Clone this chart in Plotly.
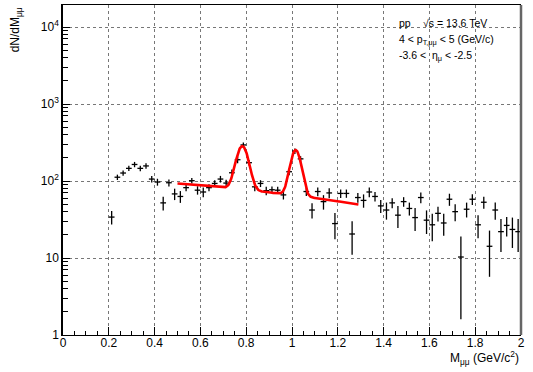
import numpy as np
import plotly.graph_objects as go

# Dimuon invariant-mass spectrum (bin centres, GeV/c^2)
mass = [0.2125, 0.2375, 0.2625, 0.2875, 0.3125, 0.3375, 0.3625, 0.3875, 0.4125, 0.4375,
        0.4625, 0.4875, 0.5125, 0.5375, 0.5625, 0.5875, 0.6125, 0.6375, 0.6625, 0.6875,
        0.7125, 0.7375, 0.7625, 0.7875, 0.8125, 0.8375, 0.8625, 0.8875, 0.9125, 0.9375,
        0.9625, 0.9875, 1.0125, 1.0375, 1.0625, 1.0875, 1.1125, 1.1375, 1.1625, 1.1875,
        1.2125, 1.2375, 1.2625, 1.2875, 1.3125, 1.3375, 1.3625, 1.3875, 1.4125, 1.4375,
        1.4625, 1.4875, 1.5125, 1.5375, 1.5625, 1.5875, 1.6125, 1.6375, 1.6625, 1.6875,
        1.7125, 1.7375, 1.7625, 1.7875, 1.8125, 1.8375, 1.8625, 1.8875, 1.9125, 1.9375,
        1.9625, 1.9875]
bin_half_width = 0.0125

dndm = [34, 112, 127, 146, 164, 146, 157, 106, 97, 52,
        95, 68, 63, 82, 101, 76, 72, 82, 93, 106,
        94, 128, 189, 294, 173, 84, 93, 75, 77, 76,
        66, 132, 245, 194, 73, 42, 73, 54, 70, 28,
        69, 69, 20.5, 61, 56, 72, 63, 47.5, 42, 52,
        36, 54, 44, 33.5, 61, 31, 27, 38, 28.5, 58,
        40, 10.3, 43, 58, 27, 53, 14.2, 42, 22, 26.5,
        23.5, 22]

dndm_err = [6.7, 9, 10, 11.5, 13, 12, 13, 10.5, 10, 10.5,
            10, 11.5, 11, 8.5, 8.3, 9.5, 10.5, 8.5, 9.5, 10.5,
            9.5, 13, 19, 23, 14, 10.5, 9.5, 9.5, 8, 8,
            8.5, 13.5, 20, 16, 9.3, 9.3, 9.5, 11.5, 10.5, 10.5,
            8.8, 8.5, 9.5, 8.7, 11, 10.5, 9, 9, 10.5, 7.8,
            11.5, 7.7, 8.4, 11, 9.7, 10.5, 10.5, 8.2, 9, 10.4,
            10, 8.7, 9.4, 9.2, 9, 9.5, 8.5, 10.5, 10, 7.5,
            10, 10]

# Fit: linear background + omega and phi Gaussians
fit_range = (0.5, 1.29)
bkg_p0, bkg_p1 = 120.5, -55.0
omega_amp, omega_mean, omega_sigma = 207.0, 0.783, 0.024
phi_amp, phi_mean, phi_sigma = 188.0, 1.016, 0.021

y_tick_vals = [1, 10, 100, 1000, 10000]
y_tick_text = ["1", "10", "10<sup>2</sup>", "10<sup>3</sup>", "10<sup>4</sup>"]
x_tick_vals = [0, 0.2, 0.4, 0.6, 0.8, 1, 1.2, 1.4, 1.6, 1.8, 2]
x_tick_text = ["0", "0.2", "0.4", "0.6", "0.8", "1", "1.2", "1.4", "1.6", "1.8", "2"]


def fit_model(m):
    bkg = bkg_p0 + bkg_p1 * m
    omega = omega_amp * np.exp(-0.5 * ((m - omega_mean) / omega_sigma) ** 2)
    phi = phi_amp * np.exp(-0.5 * ((m - phi_mean) / phi_sigma) ** 2)
    return bkg + omega + phi


m_fit = np.linspace(fit_range[0], fit_range[1], 400)

FONT = "Liberation Sans, Arial, sans-serif"
Y_RANGE = [0, 4.286]

fig = go.Figure()

fig.add_trace(go.Scatter(
    x=mass, y=dndm, mode="markers",
    marker=dict(size=1, color="black", opacity=0),
    error_y=dict(type="data", array=dndm_err, color="black", thickness=1.3, width=0),
    error_x=dict(type="constant", value=bin_half_width, color="black", thickness=1.3, width=0),
    showlegend=False, hoverinfo="skip",
))

fig.add_trace(go.Scatter(
    x=m_fit, y=fit_model(m_fit), mode="lines",
    line=dict(color="#ff0000", width=2.6),
    showlegend=False, hoverinfo="skip",
))

# minor log ticks (2..9 per decade) on an overlaid axis
minor_vals = [d * 10 ** k for k in range(0, 5) for d in range(2, 10)]
fig.add_trace(go.Scatter(x=[None], y=[None], yaxis="y2", showlegend=False, hoverinfo="skip"))

fig.update_layout(
    width=533, height=372,
    margin=dict(l=63, r=12, t=5, b=37),
    paper_bgcolor="white", plot_bgcolor="white",
    font=dict(family=FONT, size=12, color="black"),
    xaxis=dict(
        range=[0, 2], tickvals=x_tick_vals, ticktext=x_tick_text,
        ticks="inside", ticklen=8, tickwidth=1, tickcolor="black",
        ticklabelstandoff=-4,
        minor=dict(ticks="inside", dtick=0.05, tick0=0, ticklen=4, tickcolor="black", showgrid=False),
        showgrid=True, gridcolor="#777", griddash="dot", gridwidth=1,
        showline=True, linecolor="black", linewidth=1.2, mirror=True,
        zeroline=False, tickfont=dict(size=12, family=FONT),
    ),
    yaxis=dict(
        type="log", range=Y_RANGE, tickvals=y_tick_vals, ticktext=y_tick_text,
        ticks="inside", ticklen=7, tickwidth=1, tickcolor="black",
        showgrid=True, gridcolor="#777", griddash="dot", gridwidth=1,
        showline=True, linecolor="black", linewidth=1.5,
        zeroline=False, tickfont=dict(size=12, family=FONT),
    ),
    yaxis2=dict(
        type="log", range=Y_RANGE, overlaying="y", side="left", anchor="x",
        tickvals=minor_vals, showticklabels=False,
        ticks="inside", ticklen=5, tickwidth=1, tickcolor="black",
        showgrid=False, showline=False, zeroline=False,
    ),
)

# right frame edge
fig.add_shape(type="line", xref="paper", yref="paper", x0=1, x1=1, y0=0, y1=1,
              line=dict(color="#666", width=2.5))

# axis titles
fig.add_annotation(text="dN/dM<sub>μμ</sub>", xref="paper", yref="paper",
                   x=-0.103, y=1.0, xanchor="center", yanchor="top", textangle=-90,
                   showarrow=False, font=dict(size=12, family=FONT))
fig.add_annotation(text="M<sub>μμ</sub> (GeV/c<sup>2</sup>)", xref="paper", yref="paper",
                   x=1.0, y=-0.071, xanchor="right", yanchor="middle",
                   showarrow=False, font=dict(size=12, family=FONT))

# collision system and kinematic selection
info_font = dict(size=10.5, family=FONT)
fig.add_annotation(text="pp", xref="paper", yref="paper", x=0.73, y=0.945,
                   xanchor="left", yanchor="middle", showarrow=False, font=info_font)
fig.add_annotation(text="√s = 13.6 TeV", xref="paper", yref="paper", x=0.782, y=0.945,
                   xanchor="left", yanchor="middle", showarrow=False, font=info_font)
fig.add_annotation(text="4 < p<sub>T,μμ</sub> < 5 (GeV/c)", xref="paper", yref="paper",
                   x=0.73, y=0.893, xanchor="left", yanchor="middle", showarrow=False, font=info_font)
fig.add_annotation(text="-3.6 <  η<sub>μ</sub> < -2.5", xref="paper", yref="paper",
                   x=0.73, y=0.845, xanchor="left", yanchor="middle", showarrow=False, font=info_font)

fig.write_html("out.html")
